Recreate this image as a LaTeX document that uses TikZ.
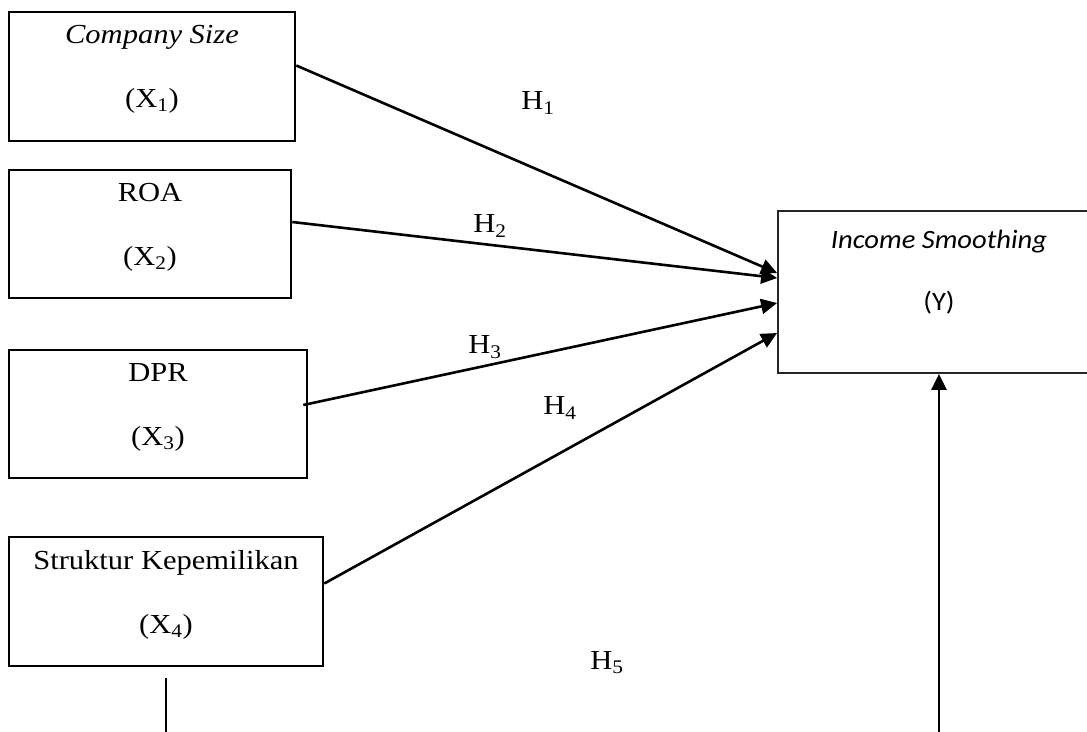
\documentclass[tikz,border=0pt]{standalone}
\usepackage{fontspec}
\setmainfont{Liberation Serif}[FakeStretch=1.11]
\newfontfamily\calfont{Carlito}[FakeStretch=1.08]
\usetikzlibrary{arrows.meta,positioning}
\newcommand{\padb}[1]{\rule[-#1]{0pt}{#1}}
\tikzset{
  varbox/.style={draw=black, line width=2.6pt, inner sep=0pt, align=center,
              font=\fontsize{27.5}{64}\selectfont},
  depbox/.style={draw=black!85, line width=1.8pt, inner sep=0pt, align=center,
              font=\calfont\fontsize{26.5}{62}\selectfont},
  link/.style={-{Triangle[length=16pt,width=15pt]}, line width=2.6pt, black},
  hyp/.style={font=\fontsize{27.5}{30}\selectfont, inner sep=1pt},
}
\begin{document}
\begin{tikzpicture}[x=1pt,y=-1pt]
    \useasboundingbox (0,0) rectangle (1087,731);
    \node[varbox,minimum width=286pt,minimum height=129pt] (size) at (152,76.5)
      {\textit{Company Size}\\(X\textsubscript{1})\padb{20pt}};
    \node[varbox,minimum width=282pt,minimum height=128pt] (roa) at (150,234)
      {ROA\\(X\textsubscript{2})\padb{20pt}};
    \node[varbox,minimum width=298pt,minimum height=128pt] (dpr) at (158,414)
      {DPR\\(X\textsubscript{3})\padb{20pt}};
    \node[varbox,minimum width=314pt,minimum height=129pt] (own) at (166,601.5)
      {Struktur Kepemilikan\\(X\textsubscript{4})\padb{20pt}};
    \node[depbox,minimum width=322pt,minimum height=162pt] (smooth) at (939,292)
      {\textit{Income Smoothing}\\(Y)\padb{44pt}};
    % hypotheses
    \draw[link] ([yshift=11pt]size.east) -- ([yshift=19pt]smooth.west);
    \draw[link] ([yshift=12pt]roa.east) -- ([yshift=14pt]smooth.west);
    \draw[link] ([xshift=-5pt,yshift=9pt]dpr.east) -- ([yshift=-11pt]smooth.west);
    \draw[link] ([yshift=18pt]own.east) -- ([yshift=-41pt]smooth.west);
    \node[hyp] (h1) at (538,103) {H\textsubscript{1}};
    \node[hyp] (h2) at (490,226) {H\textsubscript{2}};
    \node[hyp] (h3) at (485,347) {H\textsubscript{3}};
    \node[hyp] (h4) at (560,408) {H\textsubscript{4}};
    \node[hyp] (h5) at (607,663) {H\textsubscript{5}};
    % lines running off the bottom
    \coordinate (ownfoot) at (166,740);
    \coordinate (smoothfoot) at (939,740);
    \draw[line width=2.6pt] ([yshift=-11pt]own.south) -- (ownfoot);
    \draw[link] (smoothfoot) -- (smooth.south);
\end{tikzpicture}
\end{document}
